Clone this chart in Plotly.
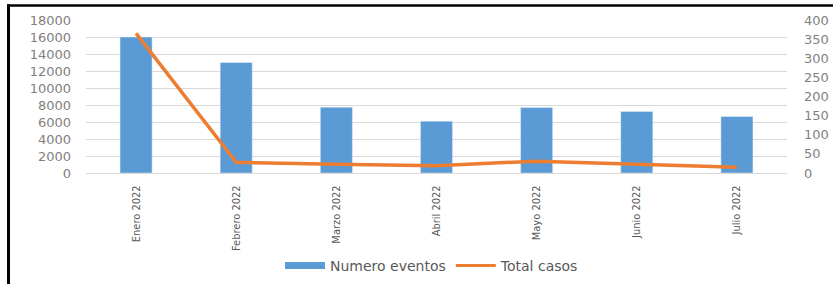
import plotly.graph_objects as go

categories = ["Enero 2022", "Febrero 2022", "Marzo 2022", "Abril 2022",
              "Mayo 2022", "Junio 2022", "Julio 2022"]
numero_eventos = [16000, 13000, 7750, 6100, 7700, 7250, 6650]
total_casos = [365, 28, 23, 19, 31, 23, 15]

left_ticks = list(range(0, 18001, 2000))
right_ticks = list(range(0, 401, 50))

fig = go.Figure()
fig.add_trace(go.Bar(x=categories, y=numero_eventos, name="Numero eventos",
                     marker=dict(color="#5b9bd5"), width=0.32, yaxis="y",
                     showlegend=False))
fig.add_trace(go.Scatter(x=categories, y=total_casos, name="Total casos",
                         mode="lines", line=dict(color="#ed7d31", width=3.5),
                         yaxis="y2", showlegend=False))
# legend entries
fig.add_trace(go.Scatter(x=[None], y=[None], name="Numero eventos", mode="lines",
                         line=dict(color="#5b9bd5", width=7), yaxis="y"))
fig.add_trace(go.Scatter(x=[None], y=[None], name="Total casos", mode="lines",
                         line=dict(color="#ed7d31", width=3), yaxis="y2"))

tick_font = dict(family="DejaVu Sans", size=13, color="#7f7f7f")

fig.update_layout(
    width=833, height=284,
    margin=dict(l=86, r=46, t=20, b=111),
    paper_bgcolor="white", plot_bgcolor="white",
    showlegend=True,
    legend=dict(orientation="h", xref="container", yref="container",
                x=432 / 833, xanchor="center", y=1 - 266 / 284, yanchor="middle",
                font=dict(family="DejaVu Sans", size=14, color="#595959"),
                itemwidth=40, tracegroupgap=0, bgcolor="rgba(0,0,0,0)"),
    bargap=0.68,
    xaxis=dict(tickangle=-90,
               tickfont=dict(family="DejaVu Sans Condensed, Liberation Sans Narrow, sans-serif",
                             size=11, color="#595959"),
               showline=True, linecolor="#d9d9d9", linewidth=1, showgrid=False,
               ticks="", ticklabelstandoff=7, automargin=False),
    yaxis=dict(range=[0, 18000], tickvals=left_ticks,
               ticktext=[str(v) for v in left_ticks], tickfont=tick_font,
               showgrid=True, gridcolor="#d9d9d9", gridwidth=1, zeroline=False,
               ticks="", ticklabelstandoff=14, automargin=False),
    yaxis2=dict(range=[0, 400], tickvals=right_ticks,
                ticktext=[str(v) for v in right_ticks], tickfont=tick_font,
                overlaying="y", side="right", showgrid=False, zeroline=False,
                ticks="", ticklabelstandoff=16, automargin=False),
    shapes=[
        dict(type="line", xref="paper", yref="paper",
             x0=(8.5 - 86) / 701, x1=(8.5 - 86) / 701,
             y0=(173 - 300) / 153, y1=(173 - 4.5) / 153,
             line=dict(color="black", width=3)),
        dict(type="line", xref="paper", yref="paper",
             x0=(7 - 86) / 701, x1=(840 - 86) / 701,
             y0=(173 - 5.5) / 153, y1=(173 - 5.5) / 153,
             line=dict(color="black", width=2.5)),
    ],
)

fig.write_html("out.html", config={"displayModeBar": False},
               post_script="document.body.style.margin='0';document.body.style.overflow='hidden';")
